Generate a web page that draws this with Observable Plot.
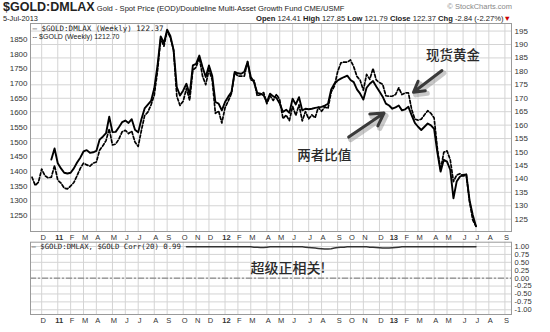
<!DOCTYPE html>
<html><head><meta charset="utf-8">
<script src="https://cdn.jsdelivr.net/npm/d3@7"></script>
<script src="https://cdn.jsdelivr.net/npm/@observablehq/plot@0.6"></script>
<style>
body{margin:0;background:#fff;font-family:"Liberation Sans",Arial,sans-serif;}
#wrap{position:relative;width:550px;height:332px;overflow:hidden;background:#fff;}
.abs{position:absolute;white-space:nowrap;line-height:1;color:#222;z-index:5;}
.abs b{font-weight:bold;}
svg{position:absolute;left:0;z-index:1;}
</style></head><body><div id="wrap">
<div class="abs" style="left:3px;top:1.2px;font-size:12.5px;"><b>$GOLD:DMLAX</b><span style="font-size:7.6px;"> Gold - Spot Price (EOD)/Doubleline Multi-Asset Growth Fund CME/USMF</span></div>
<div class="abs" style="right:38px;top:3px;font-size:7.5px;color:#888;">© StockCharts.com</div>
<div class="abs" style="left:3px;top:15.2px;font-size:7.4px;">5-Jul-2013</div>
<div class="abs" style="right:39px;top:15.2px;font-size:7.6px;"><b>Open</b> 124.41 <b>High</b> 127.85 <b>Low</b> 121.79 <b>Close</b> 122.37 <b>Chg</b> -2.84 (-2.27%)<span style="color:#c00;">▼</span></div>
</div>
<script>
// ---- data ----
const goldStart = "2010-11-12"; // weekly closes, $GOLD
const gold = [1380,1352,1363,1408,1385,1378,1380,1420,
 1370,1360,1343,1340, 1350,1362,1385,1410, 1428,1422,1418,1428, 1432,1472,1487,1505,1545,
 1490,1493,1510,1535, 1540,1529,1537,1500, 1485,1540,1590,1602,1627, 1660,1742,1852,1827,
 1880,1856,1813,1657,1625, 1640,1683,1642,1746, 1755,1788,1725,1696, 1746,1713,1598,1606,1565,
 1617,1640,1666,1737, 1725,1725,1725,1775, 1711,1711,1658,1662,1669, 1631,1658,1642,1663,
 1644,1580,1592,1573, 1622,1591,1627,1572,1604, 1579,1593,1583,1619, 1605,1620,1615,1671,1691,
 1740,1770,1773,1773, 1780,1757,1724,1711, 1677,1731,1714,1751,1712, 1703,1697,1658,1656,
 1657,1662,1685,1662, 1668,1668,1612,1578, 1575,1578,1593,1607,1598, 1582,1478,1405,1465,
 1470,1440,1365,1387,1392, 1384,1388,1297,1234, 1212.7];

const ratioStart = "2010-12-24"; // weekly $GOLD:DMLAX
const ratio = [147.2,151.3,
 145.8,143.9,142.3,142.0, 142.3,143.9,146.1,147.9, 150.2,150.7,149.7,149.9, 150.4,154.6,155.7,157.0,163.1,
 157.4,157.5,159.2,161.1, 161.7,160.8,162.2,158.3, 157.3,162.2,166.2,167.6,169.0, 173.7,182.1,193.0,190.6,
 195.5,193.2,188.0,174.2,171.0, 172.9,175.4,171.4,182.2, 182.8,185.9,181.6,177.9, 182.2,178.4,168.6,168.0,165.5,
 168.6,170.6,172.3,179.8, 179.3,179.1,179.8,183.5, 177.9,176.0,172.0,171.7,171.1, 168.6,171.7,170.7,170.1,
 168.0,164.9,165.7,164.6, 169.8,167.7,170.4,165.5,166.1, 165.9,166.1,166.4,166.6, 166.8,167.3,167.9,173.3,175.4,
 176.6,177.3,177.9,178.4, 176.8,176.0,173.3,171.7, 169.5,173.9,175.4,176.4,174.4, 172.5,170.6,168.0,167.3,
 166.1,166.6,167.3,165.5, 165.9,166.8,163.7,160.8, 159.4,158.2,159.4,160.6,159.9, 158.6,149.9,142.7,147.1,
 146.4,143.4,132.8,139.0,140.8, 141.5,141.7,132.1,126.6, 122.37];

const corrStart = "2011-10-14"; // Corr(20)
const corr = [0.99,0.99,0.99, 0.99,0.99,0.99,0.99, 0.99,0.99,0.99,0.99,0.99,
 0.99,0.99,0.99,0.99, 0.99,0.99,0.99,0.99, 0.99,0.98,0.98,0.97,0.97, 0.98,0.99,0.99,0.99,
 0.99,0.99,0.99,0.99, 0.99,0.99,0.99,0.99,0.98, 0.97,0.96,0.95,0.94, 0.93,0.92,0.92,0.93,0.95,
 0.97,0.98,0.98,0.99, 0.99,0.99,0.99,0.99, 0.99,0.99,0.98,0.98,0.97, 0.96,0.95,0.95,0.95,
 0.96,0.97,0.98,0.99, 0.99,0.99,0.99,0.99, 0.99,0.99,0.99,0.99,0.99, 0.99,0.99,0.99,0.99,
 0.99,0.99,0.99,0.99,0.99, 0.99,0.99,0.99,0.99, 0.99];

const leftTicks = [1250,1300,1350,1400,1450,1500,1550,1600,1650,1700,1750,1800,1850];
const rightTicks = [125,130,135,140,145,150,155,160,165,170,175,180,185,190,195];
const corrTicks = [-1,-0.75,-0.5,-0.25,0,0.25,0.5,0.75,1];
const monthLetters = ["J","F","M","A","M","J","J","A","S","O","N","D"];

const legendMain = "— $GOLD:DMLAX (Weekly) 122.37";
const legendGold = "-- $GOLD (Weekly) 1212.70";
const legendCorr = "— $GOLD:DMLAX, $GOLD Corr(20) 0.99";

const notes = [
  {date: "2013-05-16", gold: 1795, text: "现货黄金"},
  {date: "2012-08-09", gold: 1454, text: "两者比值"}
];
const arrows = [
  {d1: "2013-04-22", g1: 1744, d2: "2013-02-19", g2: 1670},
  {d1: "2012-10-01", g1: 1517, d2: "2012-12-17", g2: 1599}
];
const corrNote = {date: "2012-05-22", value: 0.305, text: "超级正相关!"};

// ---- helpers ----
const P = s => new Date(s + "T00:00:00Z");
const weekly = (start, vals) => vals.map((v, i) => ({date: d3.utcDay.offset(P(start), 7 * i), value: v}));
// overlay mapping: ratio (right axis) onto gold (left axis) units
const toGold = r => 1832.94 - 9.174 * (190 - r);
const toRatio = g => 190 - (1832.94 - g) / 9.174;

const goldData = weekly(goldStart, gold);
const ratioData = weekly(ratioStart, ratio);
const corrData = weekly(corrStart, corr);
const noteData = notes.map(d => ({...d, date: P(d.date)}));
const arrowData = arrows.map(d => ({x1: P(d.d1), y1: d.g1, x2: P(d.d2), y2: d.g2}));

const xDomain = [new Date(Date.UTC(2010,10,8,16)), new Date(Date.UTC(2013,8,20,8))];
const monthTicks = d3.utcMonths(new Date(Date.UTC(2010,11,1)), new Date(Date.UTC(2013,9,1))).map(m => d3.utcFriday.ceil(m));
const monthLabel = d => d.getUTCMonth() === 0 ? String(d.getUTCFullYear()).slice(2) : monthLetters[d.getUTCMonth()];

const font = "Liberation Sans, Arial, sans-serif";
const mono = "DejaVu Sans Mono, Liberation Mono, monospace";
const cjk = "Noto Sans CJK SC, sans-serif";
const gridColor = "#d4d4d4";

const main = Plot.plot({
  width: 550, height: 241,
  marginLeft: 30, marginRight: 39, marginTop: 23, marginBottom: 10,
  style: {fontFamily: font, fontSize: "8px", background: "transparent", color: "#333", overflow: "visible"},
  x: {type: "utc", domain: xDomain, axis: null},
  y: {domain: [1194.7, 1904.6], axis: null},
  marks: [
    Plot.gridX(monthTicks, {stroke: gridColor, strokeOpacity: 1}),
    Plot.gridY(rightTicks.map(toGold), {stroke: gridColor, strokeOpacity: 1}),
    Plot.axisY(leftTicks, {anchor: "left", tickSize: 0, tickPadding: 3, label: null, fontSize: 8, tickFormat: d => String(d)}),
    Plot.axisY(rightTicks.map(toGold), {anchor: "right", tickSize: 0, tickPadding: 3, label: null, fontSize: 8, tickFormat: d => String(Math.round(toRatio(d)))}),
    Plot.axisX(monthTicks, {anchor: "bottom", tickSize: 0, tickPadding: 3, label: null, fontSize: 7.5, dx: 1.5, tickFormat: monthLabel}),
    Plot.line(goldData, {x: "date", y: "value", stroke: "#000", strokeWidth: 1.7, strokeDasharray: "3,2"}),
    Plot.line(ratioData, {x: "date", y: d => toGold(d.value), stroke: "#000", strokeWidth: 1.9}),
    Plot.frame({stroke: "#9a9a9a"}),
    Plot.text([legendMain], {frameAnchor: "top-left", dx: 2, dy: 4.8, lineAnchor: "middle", textAnchor: "start", fontFamily: mono, fontSize: 7.5, fill: "#222"}),
    Plot.text([legendGold], {frameAnchor: "top-left", dx: 2, dy: 13, lineAnchor: "middle", textAnchor: "start", fontFamily: font, fontSize: 7, fill: "#222"}),
    Plot.arrow(arrowData, {x1: "x1", y1: "y1", x2: "x2", y2: "y2", stroke: "#888", strokeOpacity: 0.45, strokeWidth: 5, dx: 2, dy: 2.5, headLength: 11}),
    Plot.arrow(arrowData, {x1: "x1", y1: "y1", x2: "x2", y2: "y2", stroke: "#3a3a3a", strokeWidth: 3, headLength: 11}),
    Plot.text(noteData, {x: "date", y: "gold", text: "text", fontFamily: cjk, fontSize: 13.5, fill: "#2a2a2a", fontWeight: 500})
  ]
});
main.style.top = "0px";

const lower = Plot.plot({
  width: 550, height: 91,
  marginLeft: 30, marginRight: 39, marginTop: 0.7, marginBottom: 18,
  style: {fontFamily: font, fontSize: "8px", background: "transparent", color: "#333", overflow: "visible"},
  x: {type: "utc", domain: xDomain, axis: null},
  y: {domain: [-1.149, 1.136], axis: null},
  marks: [
    Plot.gridX(monthTicks, {stroke: gridColor, strokeOpacity: 1}),
    Plot.gridY(corrTicks, {stroke: gridColor, strokeOpacity: 1}),
    Plot.ruleY([0], {stroke: "#777", strokeDasharray: "6,2,2,2"}),
    Plot.axisY(corrTicks, {anchor: "right", tickSize: 0, tickPadding: 3, label: null, fontSize: 7.5, tickFormat: d => d.toFixed(2)}),
    Plot.axisX(monthTicks, {anchor: "bottom", tickSize: 0, tickPadding: 3, label: null, fontSize: 7.5, dx: 1.5, tickFormat: monthLabel}),
    Plot.line(corrData, {x: "date", y: "value", stroke: "#333", strokeWidth: 1.5}),
    Plot.frame({stroke: "#9a9a9a"}),
    Plot.text([legendCorr], {frameAnchor: "top-left", dx: 1, dy: 4, lineAnchor: "middle", textAnchor: "start", fontFamily: mono, fontSize: 7.3, fill: "#222"}),
    Plot.text([corrNote], {x: d => P(d.date), y: "value", text: "text", fontFamily: cjk, fontSize: 14, fill: "#2a2a2a", fontWeight: 500})
  ]
});
lower.style.top = "241px";

const wrap = document.getElementById("wrap");
wrap.appendChild(main);
wrap.appendChild(lower);
// bold year labels on the time axes
for (const svg of [main, lower]) {
  svg.querySelectorAll("text").forEach(t => { if (/^\d\d$/.test(t.textContent)) t.setAttribute("font-weight", "bold"); });
}
</script>
</body></html>
